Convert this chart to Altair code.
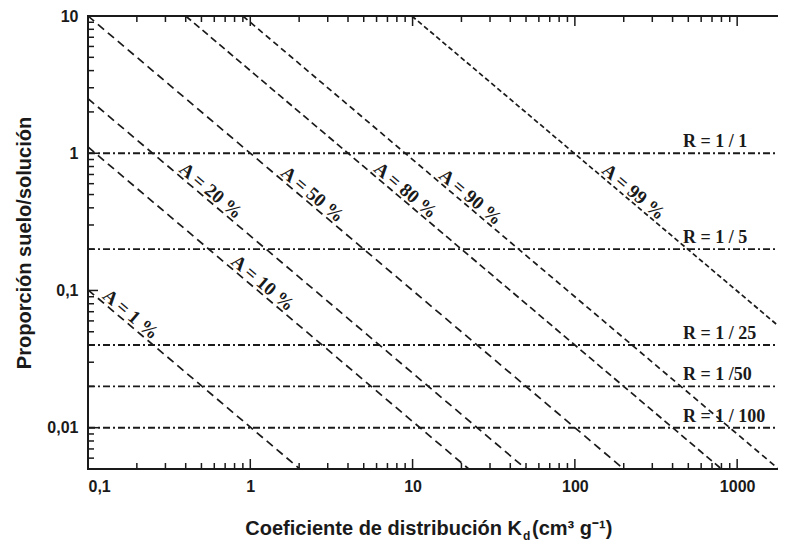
import altair as alt
import pandas as pd

# ---- data ----
x_major = [0.1, 1, 10, 100, 1000]
x_minor = [0.2, 0.3, 0.4, 0.5, 0.6, 0.7, 0.8, 0.9,
           2, 3, 4, 5, 6, 7, 8, 9,
           20, 30, 40, 50, 60, 70, 80, 90,
           200, 300, 400, 500, 600, 700, 800, 900]
y_major = [0.01, 0.1, 1, 10]
y_minor = [0.006, 0.007, 0.008, 0.009,
           0.02, 0.03, 0.04, 0.05, 0.06, 0.07, 0.08, 0.09,
           0.2, 0.3, 0.4, 0.5, 0.6, 0.7, 0.8, 0.9,
           2, 3, 4, 5, 6, 7, 8, 9]

a_names = ["A = 1 %", "A = 10 %", "A = 20 %", "A = 50 %", "A = 80 %", "A = 90 %", "A = 99 %"]
a_kd_start = [0.1, 0.1, 0.1, 0.1, 0.4, 0.9, 9.9]
a_r_start = [0.101, 1.11, 2.5, 10, 10, 10, 10]
a_kd_end = [2.02, 22.2, 50, 200, 800, 1800, 2000]
a_r_end = [0.005, 0.005, 0.005, 0.005, 0.005, 0.005, 0.0495]
a_dash = ["long", "long", "long", "long", "medium", "short", "shorter"]
a_label_kd = [0.169, 1.10, 0.526, 2.23, 8.36, 21.0, 212]
a_label_r = [0.0598, 0.101, 0.475, 0.448, 0.478, 0.428, 0.467]

r_names = ["R = 1 / 1", "R = 1 / 5", "R = 1 / 25", "R = 1 /50", "R = 1 / 100"]
r_values = [1, 0.2, 0.04, 0.02, 0.01]
kd_range = [0.1, 2000]
r_range = [0.005, 10]
kd_visible_max = 1785   # the reference is cropped just short of 2000

title_main = "Coeficiente de distribución K"
title_sub = "d"
title_unit = "(cm³ g⁻¹)"
y_title = "Proporción suelo/solución"

# ---- layout ----
W, H = 690, 453
INK = "#1a1a1a"
SANS = "Liberation Sans"
SERIF = "Liberation Serif"

xs = alt.Scale(type="log", domain=[kd_range[0], kd_visible_max], nice=False)
ys = alt.Scale(type="log", domain=r_range, nice=False)

dfA = pd.DataFrame({"name": a_names, "x0": a_kd_start, "y0": a_r_start,
                    "x1": a_kd_end, "y1": a_r_end, "dash": a_dash,
                    "lx": a_label_kd, "ly": a_label_r})
dfR = pd.DataFrame({"name": r_names, "r": r_values,
                    "x0": [kd_range[0]] * len(r_values),
                    "x1": [kd_range[1]] * len(r_values)})

xaxis = alt.Axis(values=x_major, labelExpr="replace(toString(datum.value), '.', ',')",
                 tickSize=0, domain=False, grid=False, title=None,
                 labelFont=SANS, labelFontWeight="bold", labelFontSize=16,
                 labelColor=INK, labelPadding=9)
yaxis = alt.Axis(values=y_major, labelExpr="replace(toString(datum.value), '.', ',')",
                 tickSize=0, domain=False, grid=False, title=y_title,
                 labelFont=SANS, labelFontWeight="bold", labelFontSize=16,
                 labelColor=INK, labelPadding=10,
                 titleFont=SANS, titleFontWeight="bold", titleFontSize=20,
                 titleColor=INK, titlePadding=12)

def X(field):
    return alt.X(field, scale=xs, axis=xaxis)

def Y(field):
    return alt.Y(field, scale=ys, axis=yaxis)

a_lines = alt.Chart(dfA).mark_rule(strokeWidth=1.7, color=INK, clip=True).encode(
    x=X("x0:Q"), y=Y("y0:Q"), x2="x1:Q", y2="y1:Q",
    strokeDash=alt.StrokeDash("dash:N", legend=None,
                              scale=alt.Scale(domain=["long", "medium", "short", "shorter"],
                                              range=[[8, 5], [7, 4], [6, 4], [5, 3]])),
)

r_lines = alt.Chart(dfR).mark_rule(strokeWidth=1.9, color=INK, strokeDash=[7, 3, 2, 3],
                                   clip=True).encode(
    x=X("x0:Q"), x2="x1:Q", y=Y("r:Q"),
)

a_text = alt.Chart(dfA).mark_text(font=SERIF, fontWeight="bold", fontSize=19, angle=40,
                                  align="center", baseline="alphabetic", dy=-3,
                                  color=INK).encode(
    x=X("lx:Q"), y=Y("ly:Q"), text="name:N",
)

r_text = alt.Chart(dfR).mark_text(font=SERIF, fontWeight="bold", fontSize=18,
                                  align="left", baseline="alphabetic", dy=-6,
                                  color=INK).encode(
    x=alt.value(595), y=Y("r:Q"), text="name:N",
)

def xticks(vals, length, top):
    df = pd.DataFrame({"v": vals})
    yy, yy2 = (0, length) if top else (H, H - length)
    return alt.Chart(df).mark_rule(color=INK, strokeWidth=1.5).encode(
        x=X("v:Q"), y=alt.value(yy), y2=alt.value(yy2))

def yticks(vals, length):
    df = pd.DataFrame({"v": vals})
    return alt.Chart(df).mark_rule(color=INK, strokeWidth=1.5).encode(
        y=Y("v:Q"), x=alt.value(0), x2=alt.value(length))

ticks = [xticks(x_major, 10, False), xticks(x_minor, 6, False),
         xticks(x_major, 10, True), xticks(x_minor, 6, True),
         yticks(y_major, 10), yticks(y_minor, 6)]

one = pd.DataFrame({"t": [0]})
frame_top = alt.Chart(one).mark_rule(color=INK, strokeWidth=2).encode(
    x=alt.value(0), x2=alt.value(W), y=alt.value(0))
frame_bottom = alt.Chart(one).mark_rule(color=INK, strokeWidth=2).encode(
    x=alt.value(-1), x2=alt.value(W), y=alt.value(H))
frame_left = alt.Chart(one).mark_rule(color=INK, strokeWidth=2).encode(
    x=alt.value(0), y=alt.value(-1), y2=alt.value(H + 1))

t1 = alt.Chart(one).mark_text(text=title_main, font=SANS, fontWeight="bold", fontSize=20,
                              align="right", baseline="middle", color=INK).encode(
    x=alt.value(434), y=alt.value(513))
t2 = alt.Chart(one).mark_text(text=title_sub, font=SANS, fontWeight="bold", fontSize=12,
                              align="left", baseline="middle", color=INK).encode(
    x=alt.value(435), y=alt.value(520))
t3 = alt.Chart(one).mark_text(text=title_unit, font=SANS, fontWeight="bold", fontSize=20,
                              align="left", baseline="middle", color=INK).encode(
    x=alt.value(444), y=alt.value(513))

chart = alt.layer(a_lines, r_lines, *ticks, frame_top, frame_bottom, frame_left,
                  a_text, r_text, t1, t2, t3).properties(
    width=W, height=H,
    autosize=alt.AutoSizeParams(type="none"),
    padding={"left": 80, "top": 8, "right": 0, "bottom": 75},
).configure_view(strokeWidth=0).configure_axis(grid=False)

chart.save("out.html", embed_options={"renderer": "svg", "actions": False})
